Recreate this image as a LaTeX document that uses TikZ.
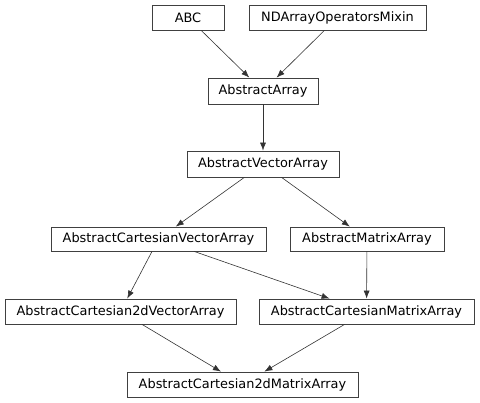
\documentclass[tikz,border=0pt]{standalone}
\usepackage{fontspec}
\setmainfont{DejaVu Sans}
\usetikzlibrary{arrows.meta}
\begin{document}
\begin{tikzpicture}[x=1pt,y=-1pt,
  cls/.style={draw=black!75, line width=0.8pt, rectangle, inner sep=0pt, anchor=center, font=\fontsize{12.9}{14}\selectfont, fill=white},
  inh/.style={draw=black!80, line width=0.6pt, -{Latex[length=8pt,width=6pt]}}]
\useasboundingbox (0,0) rectangle (480,403);
\node[cls, minimum width=72pt, minimum height=25pt] (abc) at (188,17.5) {ABC};
\node[cls, minimum width=177pt, minimum height=25pt] (nd) at (337.5,17.5) {NDArrayOperatorsMixin};
\node[cls, minimum width=110pt, minimum height=26pt] (aa) at (263,91) {AbstractArray};
\node[cls, minimum width=152pt, minimum height=26pt] (ava) at (263,164) {AbstractVectorArray};
\node[cls, minimum width=215pt, minimum height=24pt] (acva) at (158.5,239) {AbstractCartesianVectorArray};
\node[cls, minimum width=154pt, minimum height=24pt] (ama) at (367,239) {AbstractMatrixArray};
\node[cls, minimum width=231pt, minimum height=25pt] (c2v) at (120.5,311.5) {AbstractCartesian2dVectorArray};
\node[cls, minimum width=215pt, minimum height=25pt] (acma) at (366.5,311.5) {AbstractCartesianMatrixArray};
\node[cls, minimum width=231pt, minimum height=25pt] (c2m) at (242.5,384.5) {AbstractCartesian2dMatrixArray};
\draw[inh] (abc) -- (aa);
\draw[inh] (nd) -- (aa);
\draw[inh] (aa) -- (ava);
\draw[inh] (ava) -- (acva);
\draw[inh] (ava) -- (ama);
\draw[inh] (acva) -- (c2v);
\draw[inh] (acva) -- (acma);
\draw[inh] (ama) -- (acma);
\draw[inh] (c2v) -- (c2m);
\draw[inh] (acma) -- (c2m);
\end{tikzpicture}
\end{document}
